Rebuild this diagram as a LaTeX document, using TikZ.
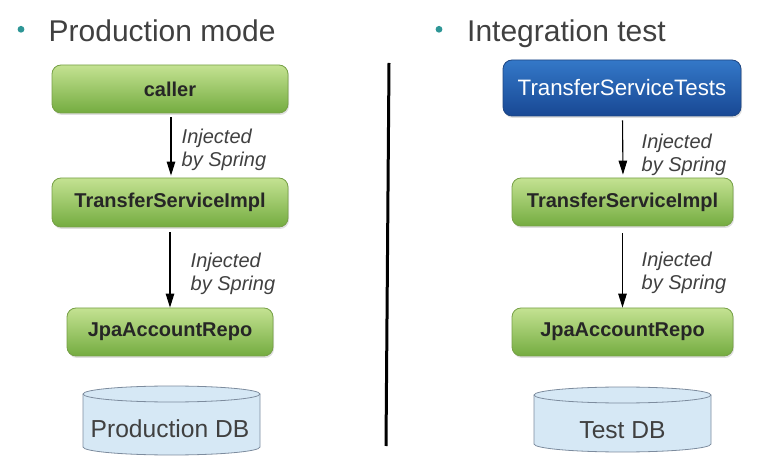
\documentclass[tikz,border=0pt]{standalone}
\usepackage{fontspec}
\setmainfont{Liberation Sans}
\usetikzlibrary{arrows.meta,shadows}
\definecolor{teal1}{RGB}{46,150,150}
\definecolor{titlegray}{RGB}{64,64,64}
\definecolor{greentop}{RGB}{196,226,146}
\definecolor{greenbot}{RGB}{116,172,64}
\definecolor{greenedge}{RGB}{118,160,70}
\definecolor{bluetop}{RGB}{52,120,200}
\definecolor{bluebot}{RGB}{24,72,148}
\definecolor{blueedge}{RGB}{30,70,130}
\definecolor{boxtext}{RGB}{38,38,38}
\definecolor{dbfill}{RGB}{214,232,245}
\definecolor{dbedge}{RGB}{125,140,158}
\tikzset{
  greenbox/.style={rounded corners=9pt, draw=greenedge, line width=0.8pt,
    top color=greentop, bottom color=greenbot, text=boxtext,
    font=\fontsize{20}{24}\selectfont\bfseries, inner sep=0pt,
    drop shadow={opacity=0.25, shadow xshift=1pt, shadow yshift=-2pt}},
  bluebox/.style={rounded corners=9pt, draw=blueedge, line width=0.8pt,
    top color=bluetop, bottom color=bluebot, text=white,
    font=\fontsize{22.3}{26}\selectfont, inner sep=0pt,
    drop shadow={opacity=0.25, shadow xshift=1pt, shadow yshift=-2pt}},
  injlabel/.style={anchor=base west, align=left, inner sep=0pt, text=titlegray,
    font=\fontsize{20}{23.5}\selectfont\itshape},
  arr/.style={-{Triangle[width=8.5pt,length=14pt]}, line width=1.1pt, black},
  title/.style={anchor=base west, inner sep=0pt, text=titlegray,
    font=\fontsize{30}{36}\selectfont},
  dbtext/.style={anchor=base, inner sep=0pt, text=titlegray,
    font=\fontsize{24.6}{30}\selectfont},
  dbshape/.style={fill=dbfill, draw=dbedge, line width=0.8pt},
}
\begin{document}
\begin{tikzpicture}[x=1pt,y=1pt]
\useasboundingbox (0,0) rectangle (771,466);
% titles
\fill[teal1] (21,436.7) circle (3.4pt);
\node[title] (t1) at (48.5,424) {Production mode};
\fill[teal1] (439,436.7) circle (3.4pt);
\node[title] (t2) at (467,424) {Integration test};
% divider
\coordinate (d1) at (389,403);
\coordinate (d2) at (386,20);
\draw[line width=3pt] (d1) -- (d2);
% left column
\node[greenbox, minimum width=236pt, minimum height=48pt] (caller) at (170,377) {caller};
\node[greenbox, minimum width=236pt, minimum height=49pt] (ltsi) at (170,263.5) {TransferServiceImpl};
\node[greenbox, minimum width=206pt, minimum height=48pt] (ljpa) at (170,134) {JpaAccountRepo};
\draw[arr, shorten <=4pt, shorten >=2pt] ([xshift=1pt]caller.south) -- ([xshift=1pt]ltsi.north);
\draw[arr, shorten <=5pt] (ltsi.south) -- (ljpa.north);
\node[injlabel] (l1) at (181.5,299) {Injected\\by Spring};
\node[injlabel] (l2) at (190.5,175) {Injected\\by Spring};
% production DB
\draw[dbshape] (83,72) -- (83,19) arc[start angle=180, end angle=360, x radius=88.5, y radius=8]
  -- (260,72) arc[start angle=0, end angle=180, x radius=88.5, y radius=8] -- cycle;
\draw[dbshape, fill=none] (83,72) arc[start angle=180, end angle=360, x radius=88.5, y radius=8];
\node[dbtext] (pdb) at (170,29) {Production DB};
% right column
\node[bluebox, minimum width=238pt, minimum height=56pt] (tst) at (622,378) {TransferServiceTests};
\node[greenbox, minimum width=221pt, minimum height=48pt] (rtsi) at (622.5,264) {TransferServiceImpl};
\node[greenbox, minimum width=221pt, minimum height=48pt] (rjpa) at (622.5,134) {JpaAccountRepo};
\draw[arr, shorten <=4pt, shorten >=3pt] ([xshift=0.5pt]tst.south) -- ([xshift=0.5pt]rtsi.north);
\draw[arr, shorten <=7pt] (rtsi.south) -- (rjpa.north);
\node[injlabel] (r1) at (641.5,294) {Injected\\by Spring};
\node[injlabel] (r2) at (641.5,176) {Injected\\by Spring};
% test DB
\draw[dbshape] (534,71) -- (534,22) arc[start angle=180, end angle=360, x radius=88.5, y radius=8]
  -- (711,71) arc[start angle=0, end angle=180, x radius=88.5, y radius=8] -- cycle;
\draw[dbshape, fill=none] (534,71) arc[start angle=180, end angle=360, x radius=88.5, y radius=8];
\node[dbtext] (tdb) at (622.5,28) {Test DB};
\end{tikzpicture}
\end{document}
